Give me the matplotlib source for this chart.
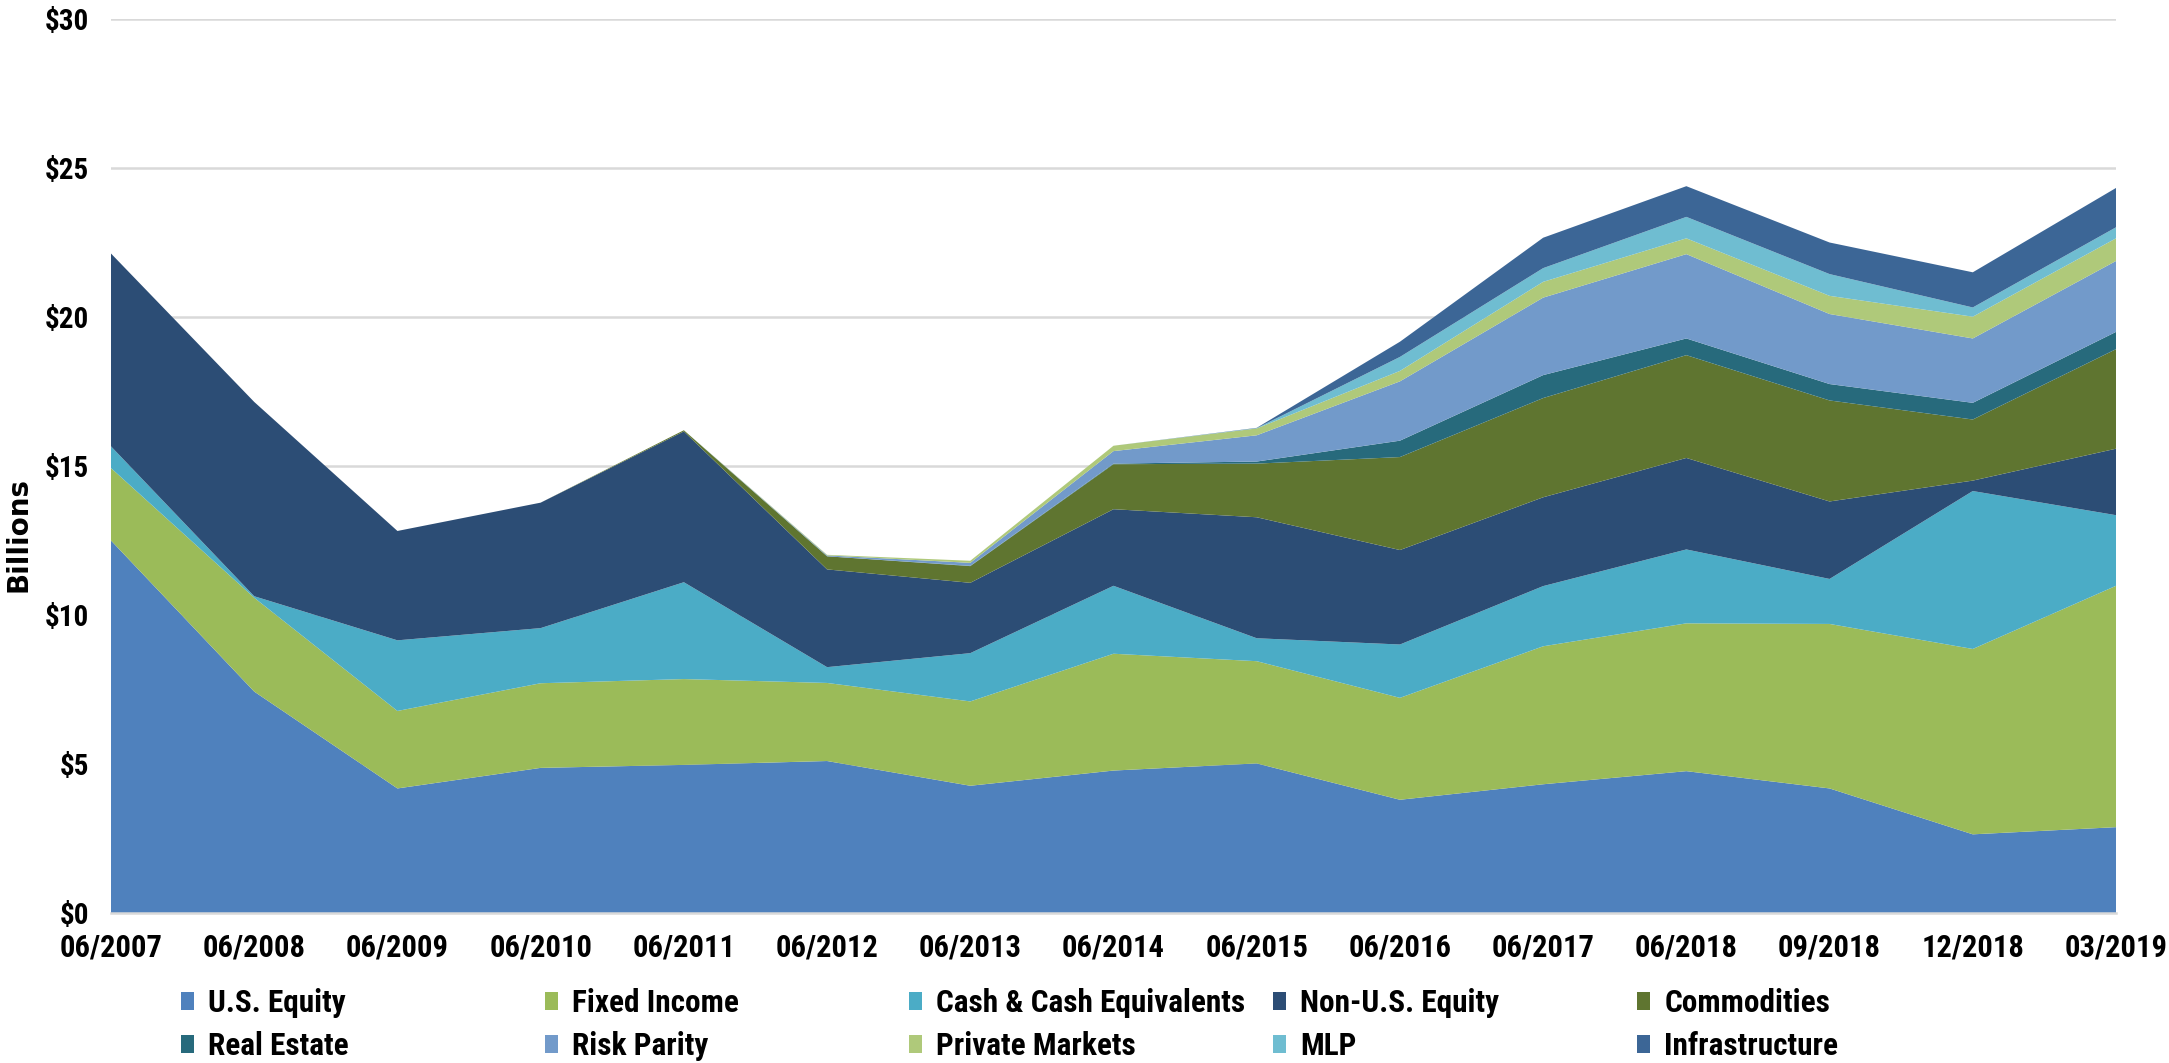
import matplotlib
matplotlib.use("Agg")
from matplotlib import pyplot as plt
from matplotlib.patches import Patch
from matplotlib import font_manager as fm
import numpy as np

plt.rcParams['font.family'] = ['Roboto Condensed', 'DejaVu Sans']
plt.rcParams['font.stretch'] = 'condensed'

dates = ['06/2007', '06/2008', '06/2009', '06/2010', '06/2011', '06/2012', '06/2013',
         '06/2014', '06/2015', '06/2016', '06/2017', '06/2018', '09/2018', '12/2018', '03/2019']

us_equity = [12.5, 7.43, 4.18, 4.87, 4.97, 5.1, 4.27, 4.78, 5.02, 3.8, 4.32, 4.76, 4.18, 2.64, 2.88]
fixed_income = [2.43, 3.15, 2.6, 2.84, 2.88, 2.62, 2.83, 3.92, 3.43, 3.42, 4.63, 4.96, 5.52, 6.22, 8.10]
cash = [0.73, 0.05, 2.37, 1.85, 3.25, 0.53, 1.62, 2.28, 0.77, 1.79, 2.02, 2.48, 1.51, 5.30, 2.37]
non_us_equity = [6.47, 6.52, 3.67, 4.21, 5.06, 3.28, 2.36, 2.57, 4.06, 3.17, 2.98, 3.07, 2.60, 0.35, 2.23]
commodities = [0, 0, 0, 0, 0.04, 0.44, 0.56, 1.51, 1.80, 3.12, 3.33, 3.45, 3.39, 2.05, 3.34]
real_estate = [0, 0, 0, 0, 0, 0, 0.01, 0.02, 0.07, 0.55, 0.77, 0.56, 0.55, 0.56, 0.58]
risk_parity = [0, 0, 0, 0, 0, 0.03, 0.10, 0.42, 0.88, 1.99, 2.60, 2.83, 2.35, 2.16, 2.38]
private_markets = [0, 0, 0, 0, 0, 0.02, 0.07, 0.18, 0.23, 0.35, 0.53, 0.53, 0.61, 0.73, 0.76]
mlp = [0, 0, 0, 0, 0, 0, 0, 0, 0.01, 0.47, 0.46, 0.72, 0.73, 0.31, 0.37]
infrastructure = [0, 0, 0, 0, 0, 0, 0, 0, 0.01, 0.51, 1.02, 1.03, 1.06, 1.18, 1.32]

labels = ['U.S. Equity', 'Fixed Income', 'Cash & Cash Equivalents', 'Non-U.S. Equity', 'Commodities',
          'Real Estate', 'Risk Parity', 'Private Markets', 'MLP', 'Infrastructure']
colors = ['#4F81BD', '#9BBB59', '#4BACC6', '#2C4D75', '#5F7530',
          '#276A7C', '#729ACA', '#AFC97A', '#6FBDD1', '#3C6696']
series = [us_equity, fixed_income, cash, non_us_equity, commodities,
          real_estate, risk_parity, private_markets, mlp, infrastructure]

W, H = 2169, 1063
fig = plt.figure(figsize=(W / 100, H / 100), dpi=100)
ax = fig.add_axes([111 / W, 1 - 913 / H, (2116 - 111) / W, (913 - 19) / H])

x = np.arange(len(dates))
ax.stackplot(x, *series, colors=colors, labels=labels, linewidth=0, zorder=2)

ax.set_xlim(0, len(dates) - 1)
ax.set_ylim(0, 30)
ax.set_yticks(range(0, 31, 5))
ax.set_yticklabels(['$%d' % v for v in range(0, 31, 5)], fontsize=21, fontweight='bold')
ax.set_xticks(x)
ax.set_xticklabels(dates, fontsize=22, fontweight='bold')
ax.tick_params(length=0)
ax.tick_params(axis='x', pad=14)
ax.tick_params(axis='y', pad=16)
ax.grid(axis='y', color='#D9D9D9', linewidth=1.8, zorder=0)
ax.set_axisbelow(True)
for s in ['top', 'right', 'left']:
    ax.spines[s].set_visible(False)
ax.spines['bottom'].set_color('#D9D9D9')
ax.spines['bottom'].set_linewidth(1.8)

# y label in a wide bold sans, like the original
bold_path = fm.findfont(fm.FontProperties(family='DejaVu Sans', weight='bold', stretch='normal'))
ylab_font = fm.FontProperties(fname=bold_path, size=20)
ax.set_ylabel('Billions', fontproperties=ylab_font)
ax.yaxis.set_label_coords((33 - 111) / 2005, (913 - 535) / 894)

handles = [Patch(facecolor=c, edgecolor='none') for c in colors]
for i in range(5):
    fig.legend([handles[i], handles[i + 5]], [labels[i], labels[i + 5]],
               loc='upper left', bbox_to_anchor=((181 + i * 364) / W, 1 - 988 / H),
               frameon=False, handlelength=0.42, handleheight=0.5, handletextpad=0.45,
               labelspacing=0.42, borderaxespad=0, borderpad=0,
               prop={'size': 22.5, 'weight': 'bold'})

fig.savefig('out.png', dpi=100)
